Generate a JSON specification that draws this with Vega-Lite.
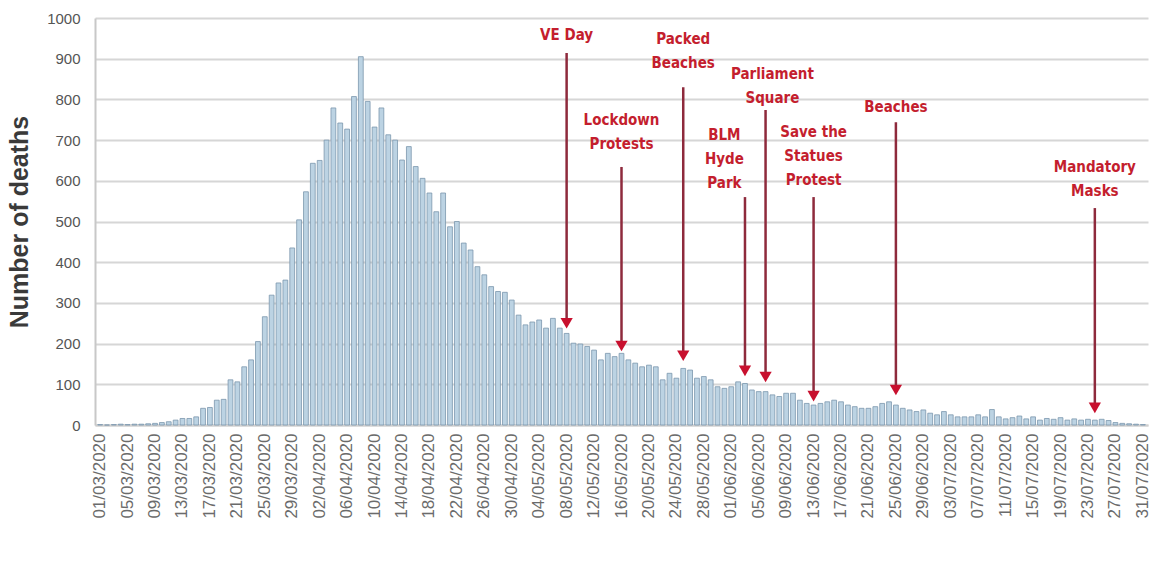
{
  "$schema": "https://vega.github.io/schema/vega-lite/v6.json",
  "width": 1053,
  "height": 407,
  "autosize": "none",
  "padding": {"left": 95, "top": 18, "right": 4, "bottom": 150},
  "background": "white",
  "config": {"view": {"stroke": null}, "font": "Liberation Sans"},
  "datasets": {
    "deaths": [
      {"date":"2020-03-01","deaths":1},{"date":"2020-03-02","deaths":0},{"date":"2020-03-03","deaths":1},{"date":"2020-03-04","deaths":2},{"date":"2020-03-05","deaths":1},{"date":"2020-03-06","deaths":2},{"date":"2020-03-07","deaths":2},{"date":"2020-03-08","deaths":3},{"date":"2020-03-09","deaths":4},{"date":"2020-03-10","deaths":6},{"date":"2020-03-11","deaths":8},{"date":"2020-03-12","deaths":12},{"date":"2020-03-13","deaths":16},{"date":"2020-03-14","deaths":16},{"date":"2020-03-15","deaths":20},{"date":"2020-03-16","deaths":41},{"date":"2020-03-17","deaths":43},{"date":"2020-03-18","deaths":61},{"date":"2020-03-19","deaths":63},{"date":"2020-03-20","deaths":111},{"date":"2020-03-21","deaths":106},{"date":"2020-03-22","deaths":143},{"date":"2020-03-23","deaths":160},{"date":"2020-03-24","deaths":205},{"date":"2020-03-25","deaths":266},{"date":"2020-03-26","deaths":319},{"date":"2020-03-27","deaths":349},{"date":"2020-03-28","deaths":356},{"date":"2020-03-29","deaths":435},{"date":"2020-03-30","deaths":504},{"date":"2020-03-31","deaths":573},
      {"date":"2020-04-01","deaths":643},{"date":"2020-04-02","deaths":650},{"date":"2020-04-03","deaths":700},{"date":"2020-04-04","deaths":779},{"date":"2020-04-05","deaths":742},{"date":"2020-04-06","deaths":727},{"date":"2020-04-07","deaths":807},{"date":"2020-04-08","deaths":905},{"date":"2020-04-09","deaths":795},{"date":"2020-04-10","deaths":732},{"date":"2020-04-11","deaths":779},{"date":"2020-04-12","deaths":713},{"date":"2020-04-13","deaths":700},{"date":"2020-04-14","deaths":651},{"date":"2020-04-15","deaths":684},{"date":"2020-04-16","deaths":635},{"date":"2020-04-17","deaths":606},{"date":"2020-04-18","deaths":570},{"date":"2020-04-19","deaths":524},{"date":"2020-04-20","deaths":570},{"date":"2020-04-21","deaths":487},{"date":"2020-04-22","deaths":500},{"date":"2020-04-23","deaths":447},{"date":"2020-04-24","deaths":430},{"date":"2020-04-25","deaths":389},{"date":"2020-04-26","deaths":369},{"date":"2020-04-27","deaths":340},{"date":"2020-04-28","deaths":328},{"date":"2020-04-29","deaths":326},{"date":"2020-04-30","deaths":307},
      {"date":"2020-05-01","deaths":270},{"date":"2020-05-02","deaths":246},{"date":"2020-05-03","deaths":253},{"date":"2020-05-04","deaths":258},{"date":"2020-05-05","deaths":238},{"date":"2020-05-06","deaths":262},{"date":"2020-05-07","deaths":238},{"date":"2020-05-08","deaths":225},{"date":"2020-05-09","deaths":201},{"date":"2020-05-10","deaths":199},{"date":"2020-05-11","deaths":193},{"date":"2020-05-12","deaths":184},{"date":"2020-05-13","deaths":160},{"date":"2020-05-14","deaths":176},{"date":"2020-05-15","deaths":168},{"date":"2020-05-16","deaths":176},{"date":"2020-05-17","deaths":160},{"date":"2020-05-18","deaths":152},{"date":"2020-05-19","deaths":143},{"date":"2020-05-20","deaths":147},{"date":"2020-05-21","deaths":143},{"date":"2020-05-22","deaths":111},{"date":"2020-05-23","deaths":127},{"date":"2020-05-24","deaths":115},{"date":"2020-05-25","deaths":139},{"date":"2020-05-26","deaths":135},{"date":"2020-05-27","deaths":115},{"date":"2020-05-28","deaths":119},{"date":"2020-05-29","deaths":111},{"date":"2020-05-30","deaths":94},{"date":"2020-05-31","deaths":90},
      {"date":"2020-06-01","deaths":94},{"date":"2020-06-02","deaths":106},{"date":"2020-06-03","deaths":102},{"date":"2020-06-04","deaths":86},{"date":"2020-06-05","deaths":82},{"date":"2020-06-06","deaths":82},{"date":"2020-06-07","deaths":74},{"date":"2020-06-08","deaths":70},{"date":"2020-06-09","deaths":78},{"date":"2020-06-10","deaths":78},{"date":"2020-06-11","deaths":61},{"date":"2020-06-12","deaths":53},{"date":"2020-06-13","deaths":49},{"date":"2020-06-14","deaths":53},{"date":"2020-06-15","deaths":57},{"date":"2020-06-16","deaths":61},{"date":"2020-06-17","deaths":57},{"date":"2020-06-18","deaths":49},{"date":"2020-06-19","deaths":45},{"date":"2020-06-20","deaths":41},{"date":"2020-06-21","deaths":41},{"date":"2020-06-22","deaths":45},{"date":"2020-06-23","deaths":53},{"date":"2020-06-24","deaths":57},{"date":"2020-06-25","deaths":49},{"date":"2020-06-26","deaths":41},{"date":"2020-06-27","deaths":37},{"date":"2020-06-28","deaths":33},{"date":"2020-06-29","deaths":37},{"date":"2020-06-30","deaths":29},
      {"date":"2020-07-01","deaths":25},{"date":"2020-07-02","deaths":33},{"date":"2020-07-03","deaths":25},{"date":"2020-07-04","deaths":20},{"date":"2020-07-05","deaths":20},{"date":"2020-07-06","deaths":20},{"date":"2020-07-07","deaths":25},{"date":"2020-07-08","deaths":20},{"date":"2020-07-09","deaths":38},{"date":"2020-07-10","deaths":20},{"date":"2020-07-11","deaths":15},{"date":"2020-07-12","deaths":18},{"date":"2020-07-13","deaths":22},{"date":"2020-07-14","deaths":15},{"date":"2020-07-15","deaths":20},{"date":"2020-07-16","deaths":12},{"date":"2020-07-17","deaths":16},{"date":"2020-07-18","deaths":14},{"date":"2020-07-19","deaths":18},{"date":"2020-07-20","deaths":12},{"date":"2020-07-21","deaths":15},{"date":"2020-07-22","deaths":12},{"date":"2020-07-23","deaths":14},{"date":"2020-07-24","deaths":12},{"date":"2020-07-25","deaths":14},{"date":"2020-07-26","deaths":11},{"date":"2020-07-27","deaths":6},{"date":"2020-07-28","deaths":4},{"date":"2020-07-29","deaths":3},{"date":"2020-07-30","deaths":2},{"date":"2020-07-31","deaths":1}
    ],
    "events": [
      {"event":"VE Day","date":"2020-05-08","textDate":"2020-05-08","textTop":938,"lineTop":914,"tip":250},
      {"event":"Lockdown\nProtests","date":"2020-05-16","textDate":"2020-05-16","textTop":730,"lineTop":634,"tip":194},
      {"event":"Packed\nBeaches","date":"2020-05-25","textDate":"2020-05-25","textTop":929,"lineTop":830,"tip":170},
      {"event":"BLM\nHyde\nPark","date":"2020-06-03","textDate":"2020-05-31","textTop":693,"lineTop":560,"tip":133},
      {"event":"Parliament\nSquare","date":"2020-06-06","textDate":"2020-06-07","textTop":843,"lineTop":774,"tip":118},
      {"event":"Save the\nStatues\nProtest","date":"2020-06-13","textDate":"2020-06-13","textTop":700,"lineTop":560,"tip":71},
      {"event":"Beaches","date":"2020-06-25","textDate":"2020-06-25","textTop":762,"lineTop":744,"tip":86},
      {"event":"Mandatory\nMasks","date":"2020-07-24","textDate":"2020-07-24","textTop":614,"lineTop":533,"tip":42}
    ]
  },
  "layer": [
    {
      "data": {"name": "deaths"},
      "mark": {"type": "bar", "fill": "#bcd3e3", "stroke": "#7b97ad", "strokeWidth": 0.8},
      "encoding": {
        "x": {
          "field": "date", "type": "ordinal", "title": null,
          "scale": {"paddingInner": 0.3, "paddingOuter": 0.4},
          "axis": {
            "values": ["2020-03-01","2020-03-05","2020-03-09","2020-03-13","2020-03-17","2020-03-21","2020-03-25","2020-03-29","2020-04-02","2020-04-06","2020-04-10","2020-04-14","2020-04-18","2020-04-22","2020-04-26","2020-04-30","2020-05-04","2020-05-08","2020-05-12","2020-05-16","2020-05-20","2020-05-24","2020-05-28","2020-06-01","2020-06-05","2020-06-09","2020-06-13","2020-06-17","2020-06-21","2020-06-25","2020-06-29","2020-07-03","2020-07-07","2020-07-11","2020-07-15","2020-07-19","2020-07-23","2020-07-27","2020-07-31"],
            "labelExpr": "substring(datum.value,8,10)+'/'+substring(datum.value,5,7)+'/'+substring(datum.value,0,4)",
            "labelAngle": -90, "labelAlign": "right", "labelBaseline": "middle",
            "labelFontSize": 17, "labelColor": "#6b6b6b", "labelPadding": 8,
            "ticks": false, "domain": true, "domainColor": "#cfcfcf", "domainWidth": 2, "grid": false
          }
        },
        "y": {
          "field": "deaths", "type": "quantitative", "title": "Number of deaths",
          "scale": {"domain": [0, 1000], "nice": false},
          "axis": {
            "values": [0,100,200,300,400,500,600,700,800,900,1000],
            "format": "d",
            "grid": true, "gridColor": "#d6d6d6", "gridWidth": 2,
            "ticks": false, "domain": true, "domainColor": "#c8c8c8", "domainWidth": 2,
            "labelFontSize": 15, "labelColor": "#555555", "labelPadding": 15,
            "titleFontSize": 25, "titleFontWeight": "bold", "titleColor": "#3a3a3a", "titlePadding": 14
          }
        }
      }
    },
    {
      "data": {"name": "events"},
      "mark": {"type": "rule", "color": "#8e2a3c", "strokeWidth": 2.5},
      "encoding": {
        "x": {"field": "date", "type": "ordinal", "title": null},
        "y": {"field": "lineTop", "type": "quantitative", "title": "Number of deaths"},
        "y2": {"field": "tip"}
      }
    },
    {
      "data": {"name": "events"},
      "mark": {"type": "point", "shape": "triangle-down", "filled": true, "color": "#c8102e", "size": 150, "opacity": 1},
      "encoding": {
        "x": {"field": "date", "type": "ordinal", "title": null},
        "y": {"field": "tip", "type": "quantitative", "title": "Number of deaths"}
      }
    },
    {
      "data": {"name": "events"},
      "mark": {"type": "text", "color": "#c41e2e", "fontWeight": "bold", "fontSize": 15, "font": "Liberation Sans Narrow, DejaVu Sans Condensed, Liberation Sans, sans-serif", "lineBreak": "\n", "lineHeight": 24, "baseline": "bottom", "align": "center"},
      "encoding": {
        "x": {"field": "textDate", "type": "ordinal", "title": null},
        "y": {"field": "textTop", "type": "quantitative", "title": "Number of deaths"},
        "text": {"field": "event", "type": "nominal"}
      }
    }
  ]
}
